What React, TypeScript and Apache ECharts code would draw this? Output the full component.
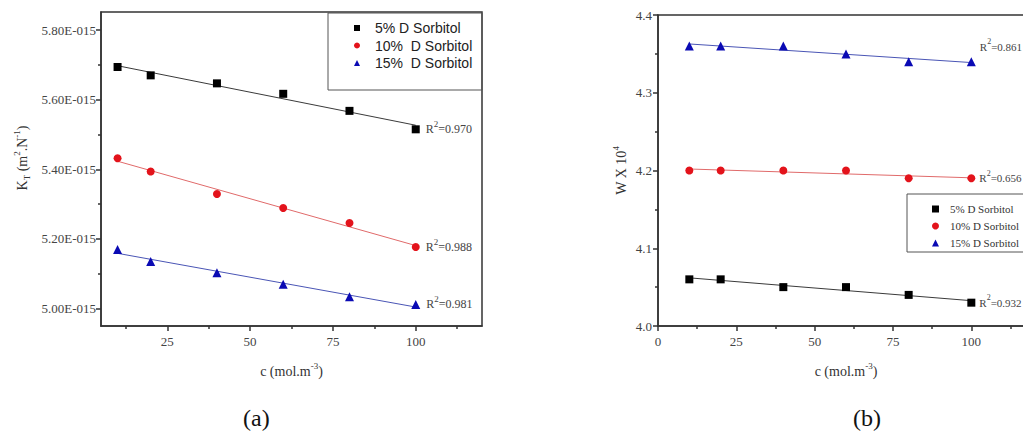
import React, { useEffect, useRef } from "react";
import * as echarts from "echarts";

const SERIF = "'Liberation Serif', 'Times New Roman', serif";
const SANS = "'Liberation Sans', Arial, sans-serif";

// concentrations (mol.m^-3)
const concentrations = [10, 20, 40, 60, 80, 100];

// (a) K_T values, in units of 1E-015 m^2.N^-1
const kt5 = [5.694, 5.670, 5.647, 5.617, 5.568, 5.515];
const kt10 = [5.432, 5.394, 5.329, 5.289, 5.246, 5.177];
const kt15 = [5.170, 5.135, 5.103, 5.070, 5.034, 5.012];

// (b) W x 10^4
const w5 = [4.06, 4.06, 4.05, 4.05, 4.04, 4.03];
const w10 = [4.20, 4.20, 4.20, 4.20, 4.19, 4.19];
const w15 = [4.36, 4.36, 4.36, 4.35, 4.34, 4.34];

const namesA = ["5% D Sorbitol", "10%  D Sorbitol", "15%  D Sorbitol"];
const namesB = ["5% D Sorbitol ", "10% D Sorbitol", "15% D Sorbitol"];
const r2A = ["0.970", "0.988", "0.981"];
const r2B = ["0.932", "0.656", "0.861"];

const ktLabels = [5.0, 5.2, 5.4, 5.6, 5.8];
const ktMinor = [5.1, 5.3, 5.5, 5.7];
const cLabelsA = [25, 50, 75, 100];
const cMinorA = [12.5, 37.5, 62.5, 87.5, 112.5];
const cLabelsB = [0, 25, 50, 75, 100];

const markerColors = ["#000000", "#e3131b", "#0a0ab4"];
const fitColors = ["#3a3a3a", "#e06a6a", "#4a55b5"];
const symbols = ["rect", "circle", "triangle"];

function linFit(xs: number[], ys: number[]) {
  const n = xs.length;
  const mx = xs.reduce((a, b) => a + b, 0) / n;
  const my = ys.reduce((a, b) => a + b, 0) / n;
  let sxy = 0, sxx = 0;
  for (let i = 0; i < n; i++) {
    sxy += (xs[i] - mx) * (ys[i] - my);
    sxx += (xs[i] - mx) * (xs[i] - mx);
  }
  const b = sxy / sxx;
  const a = my - b * mx;
  return [[xs[0], a + b * xs[0]], [xs[n - 1], a + b * xs[n - 1]]];
}

function supRich(size: number) {
  return {
    m: { fontFamily: SERIF, fontSize: size, lineHeight: size, color: "#444" },
    p: { fontFamily: SERIF, fontSize: size - 3, lineHeight: size - 3, color: "#444", padding: [0, 0, 10, 0] },
  };
}

function scatterSeries(name: string, ys: number[], idx: number, xAxisIndex: number, yAxisIndex: number, r2: string, offsetY: number, labelSize: number, dist: number) {
  const last = ys.length - 1;
  return {
    type: "scatter",
    name,
    xAxisIndex,
    yAxisIndex,
    symbol: symbols[idx],
    symbolSize: idx === 2 ? 9 : 8,
    itemStyle: { color: markerColors[idx], opacity: 1 },
    z: 5,
    data: concentrations.map((x, i) =>
      i === last
        ? {
            value: [x, ys[i]],
            label: {
              show: true,
              position: "right",
              distance: dist,
              offset: [0, offsetY],
              formatter: `{m|R}{p|2}{m|=${r2}}`,
              rich: supRich(labelSize),
            },
          }
        : [x, ys[i]]
    ),
  };
}

function fitSeries(ys: number[], idx: number, xAxisIndex: number, yAxisIndex: number, tag: string) {
  return {
    type: "line",
    name: `fit-${tag}-${idx}`,
    xAxisIndex,
    yAxisIndex,
    symbol: "none",
    lineStyle: { color: fitColors[idx], width: 1 },
    z: 3,
    silent: true,
    data: linFit(concentrations, ys),
  };
}

const axisColor = "#333";
const labelStyle = { fontFamily: SERIF, fontSize: 13, color: "#444" };
const nameRich = {
  m: { fontFamily: SERIF, fontSize: 14, lineHeight: 14, color: "#333" },
  p: { fontFamily: SERIF, fontSize: 9, lineHeight: 9, color: "#333", padding: [0, 0, 11, 0] },
  s: { fontFamily: SERIF, fontSize: 9, lineHeight: 9, color: "#333", padding: [10, 0, 0, 0] },
};

function legendItem(name: string, left: number, top: number, size: number, textStyle: any) {
  return {
    data: [name],
    orient: "vertical",
    left,
    top,
    padding: 0,
    itemWidth: size,
    itemHeight: size,
    textStyle,
    selectedMode: false,
  };
}

const legendTextA = { fontFamily: SANS, fontSize: 14, color: "#222", lineHeight: 15, padding: [0, 0, 0, 10] };
const legendTextB = { fontFamily: SERIF, fontSize: 11, color: "#333", lineHeight: 15, padding: [0, 0, 0, 6] };
const rowsA = [28, 45.5, 63];
const rowsB = [209, 226, 243];

export default function App() {
  const ref = useRef<HTMLDivElement>(null);
  useEffect(() => {
    if (!ref.current) return;
    const chart = echarts.init(ref.current, null, { renderer: "svg" });
    const option: any = {
      animation: false,
      backgroundColor: "#fff",
      grid: [
        { left: 101, top: 12, width: 381, height: 314, show: true, borderColor: axisColor, borderWidth: 1.5, backgroundColor: "transparent" },
        { left: 658, top: 15, width: 376, height: 311, show: true, borderColor: axisColor, borderWidth: 1.5, backgroundColor: "transparent" },
      ],
      xAxis: [
        {
          type: "value", gridIndex: 0, min: 5, max: 120, position: "bottom",
          axisLine: { show: true, lineStyle: { color: axisColor, width: 1.5 } },
          axisTick: { show: true, length: 5, lineStyle: { color: axisColor, width: 1.5 }, customValues: cLabelsA },
          axisLabel: { ...labelStyle, margin: 9, customValues: cLabelsA },
          splitLine: { show: false },
          name: "{m|c (mol.m}{p|-3}{m|)}",
          nameLocation: "middle", nameGap: 38,
          nameTextStyle: { rich: nameRich },
        },
        {
          type: "value", gridIndex: 0, min: 5, max: 120, position: "bottom",
          axisLine: { show: false },
          axisTick: { show: true, length: 3, lineStyle: { color: axisColor, width: 1.5 }, customValues: cMinorA },
          axisLabel: { show: false },
          splitLine: { show: false },
        },
        {
          type: "value", gridIndex: 1, min: 0, max: 120, interval: 25, position: "bottom",
          axisLine: { show: true, lineStyle: { color: axisColor, width: 1.5 } },
          axisTick: { show: true, length: 5, lineStyle: { color: axisColor, width: 1.5 } },
          minorTick: { show: true, splitNumber: 2, length: 3, lineStyle: { color: axisColor, width: 1.5 } },
          axisLabel: { ...labelStyle, margin: 9, customValues: cLabelsB },
          splitLine: { show: false },
          name: "{m|c (mol.m}{p|-3}{m|)}",
          nameLocation: "middle", nameGap: 38,
          nameTextStyle: { rich: nameRich },
        },
      ],
      yAxis: [
        {
          type: "value", gridIndex: 0, min: 4.95, max: 5.852, position: "left",
          axisLine: { show: true, lineStyle: { color: axisColor, width: 1.5 } },
          axisTick: { show: true, length: 5, lineStyle: { color: axisColor, width: 1.5 }, customValues: ktLabels },
          axisLabel: { ...labelStyle, margin: 5, customValues: ktLabels, formatter: (v: number) => `${v.toFixed(2)}E-015` },
          splitLine: { show: false },
          name: "{m|K}{s|T}{m| (m}{p|2}{m|.N}{p|-1}{m|)}",
          nameLocation: "middle", nameGap: 72,
          nameTextStyle: { rich: nameRich, padding: [0, 0, 0, 22] },
        },
        {
          type: "value", gridIndex: 0, min: 4.95, max: 5.852, position: "left",
          axisLine: { show: false },
          axisTick: { show: true, length: 3, lineStyle: { color: axisColor, width: 1.5 }, customValues: ktMinor },
          axisLabel: { show: false },
          splitLine: { show: false },
        },
        {
          type: "value", gridIndex: 1, min: 4.0, max: 4.4, interval: 0.1, position: "left",
          axisLine: { show: true, lineStyle: { color: axisColor, width: 1.5 } },
          axisTick: { show: true, length: 5, lineStyle: { color: axisColor, width: 1.5 } },
          minorTick: { show: true, splitNumber: 2, length: 3, lineStyle: { color: axisColor, width: 1.5 } },
          axisLabel: { ...labelStyle, margin: 6, formatter: (v: number) => v.toFixed(1) },
          splitLine: { show: false },
          name: "{m|W X 10}{p|4}",
          nameLocation: "middle", nameGap: 28,
          nameTextStyle: { rich: nameRich },
        },
      ],
      legend: [
        ...namesA.map((n, i) => legendItem(n, 354, rowsA[i] - 7.5, 6, legendTextA)),
        ...namesB.map((n, i) => legendItem(n, 932, rowsB[i] - 7.5, 7, legendTextB)),
      ],
      series: [
        fitSeries(kt5, 0, 0, 0, "a"),
        fitSeries(kt10, 1, 0, 0, "a"),
        fitSeries(kt15, 2, 0, 0, "a"),
        scatterSeries(namesA[0], kt5, 0, 0, 0, r2A[0], 0, 12, 6),
        scatterSeries(namesA[1], kt10, 1, 0, 0, r2A[1], 0, 12, 6),
        scatterSeries(namesA[2], kt15, 2, 0, 0, r2A[2], 0, 12, 6),
        fitSeries(w5, 0, 2, 2, "b"),
        fitSeries(w10, 1, 2, 2, "b"),
        fitSeries(w15, 2, 2, 2, "b"),
        scatterSeries(namesB[0], w5, 0, 2, 2, r2B[0], 0, 11, 4),
        scatterSeries(namesB[1], w10, 1, 2, 2, r2B[1], 0, 11, 4),
        scatterSeries(namesB[2], w15, 2, 2, 2, r2B[2], -15, 11, 4),
      ],
      graphic: [
        { type: "rect", z: 1, shape: { x: 328, y: 13, width: 154, height: 77 }, style: { fill: "none", stroke: "#555", lineWidth: 1 } },
        { type: "rect", z: 1, shape: { x: 907, y: 194, width: 140, height: 58 }, style: { fill: "none", stroke: "#555", lineWidth: 1 } },
        { type: "text", left: 243, top: 406, style: { text: "(a)", font: `24px ${SERIF}`, fill: "#111" } },
        { type: "text", left: 853, top: 406, style: { text: "(b)", font: `24px ${SERIF}`, fill: "#111" } },
      ],
    };
    chart.setOption(option);
    return () => chart.dispose();
  }, []);
  return (
    <div style={{ position: "absolute", left: 0, top: 0, width: 1023, height: 434, overflow: "hidden", background: "#fff" }}>
      <div ref={ref} style={{ width: 1060, height: 434 }} />
    </div>
  );
}
